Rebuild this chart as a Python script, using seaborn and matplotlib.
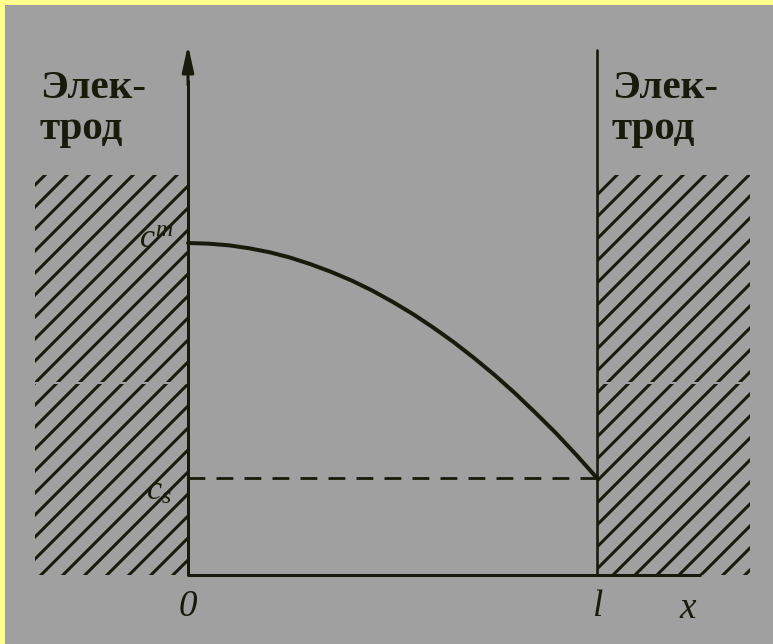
import matplotlib
matplotlib.use("Agg")
import matplotlib.pyplot as plt
from matplotlib.patches import Rectangle
import seaborn as sns
import pandas as pd

# Concentration profile between two electrodes (x in units of l, c in units of c^m)
x_pos = [0.00, 0.05, 0.10, 0.15, 0.20, 0.25, 0.30, 0.35, 0.40, 0.45, 0.50,
         0.55, 0.60, 0.65, 0.70, 0.75, 0.80, 0.85, 0.90, 0.95, 1.00]
conc = [1.000, 0.998, 0.993, 0.984, 0.972, 0.956, 0.936, 0.913, 0.887, 0.857, 0.823,
        0.786, 0.745, 0.701, 0.653, 0.602, 0.547, 0.488, 0.427, 0.361, 0.292]
c_m = 1.0
c_s = 0.292
tick_labels = ["0", "l", "x"]
level_labels = [r"$c^{m}$", r"$c_{s}$"]
electrode_label = "Элек-\nтрод"

DPI = 132
W, H = 773, 644
BG = "#a0a0a0"
INK = "#181a0c"
YELLOW = "#ffff8e"


def pt(px):
    """Convert a size in output pixels to points."""
    return px * 72.0 / DPI


sns.set_theme(style="white")
plt.rcParams["hatch.linewidth"] = pt(3.0)
plt.rcParams["mathtext.fontset"] = "custom"
plt.rcParams["mathtext.rm"] = "Liberation Serif"
plt.rcParams["mathtext.it"] = "Liberation Serif:italic"
plt.rcParams["mathtext.bf"] = "Liberation Serif:bold"

fig = plt.figure(figsize=(W / DPI, H / DPI), dpi=DPI, facecolor=BG)
ax = fig.add_axes([0, 0, 1, 1])

# pixel frame: origin at (188, 575) px, l = 409 px, c^m = 332 px
X0, Y0, SX, SY = 188, 575, 409, 332


def px2x(px):
    return (px - X0) / SX


def px2y(py):
    return (Y0 - py) / SY


ax.set_xlim(px2x(0), px2x(W))
ax.set_ylim(px2y(H), px2y(0))
ax.set_facecolor(BG)
ax.axis("off")

# hatched electrodes
top_el = px2y(175)
left_w = -px2x(35)
right_w = px2x(750) - 1.0
ax.add_patch(Rectangle((-left_w, 0), left_w, top_el, facecolor="none",
                       edgecolor=INK, hatch="//", linewidth=0, zorder=1))
ax.add_patch(Rectangle((1.0, 0), right_w, top_el, facecolor="none",
                       edgecolor=INK, hatch="//", linewidth=0, zorder=1))
# faint break running across the hatching
gap_y = px2y(383)
ax.plot([-left_w, 0], [gap_y, gap_y], color=BG, lw=pt(2), zorder=2)
ax.plot([1.0, 1.0 + right_w], [gap_y, gap_y], color=BG, lw=pt(2), zorder=2)

# axes and electrode boundary
ax.plot([0, 0], [0, px2y(80)], color=INK, lw=pt(3), zorder=3, solid_capstyle="butt")
ax.annotate("", xy=(0, px2y(45)), xytext=(0, px2y(85)),
            arrowprops=dict(arrowstyle="-|>,head_length=1.0,head_width=0.22",
                            color=INK, lw=pt(3), shrinkA=0, shrinkB=0), zorder=3)
ax.plot([0, px2x(700)], [0, 0], color=INK, lw=pt(3), zorder=3)
ax.plot([1, 1], [0, px2y(50)], color=INK, lw=pt(2.6), zorder=3)

# concentration curve and c_s level
df = pd.DataFrame({"x": x_pos, "c": conc})
sns.lineplot(data=df, x="x", y="c", ax=ax, color=INK, lw=pt(4), zorder=4)
ax.plot([0, 1], [c_s, c_s], color=INK, lw=pt(2.8), dashes=(6, 4), zorder=4)
ax.set_xlabel("")
ax.set_ylabel("")

serif = ["Liberation Serif", "DejaVu Serif"]
txt = dict(color=INK, family=serif)

# electrode labels
ax.text(px2x(40), px2y(70), electrode_label, ha="left", va="top",
        fontsize=pt(41), linespacing=1.15, fontweight="bold", **txt)
ax.text(px2x(612), px2y(70), electrode_label, ha="left", va="top",
        fontsize=pt(41), linespacing=1.15, fontweight="bold", **txt)

# level labels
ax.text(px2x(174), c_m + 0.01, level_labels[0], ha="right", va="center",
        fontsize=pt(34), **txt)
ax.text(px2x(172), c_s - 0.04, level_labels[1], ha="right", va="center",
        fontsize=pt(34), **txt)

# axis tick labels
ax.text(0, px2y(607), tick_labels[0], ha="center", va="center", fontsize=pt(37),
        style="italic", **txt)
ax.text(1, px2y(607), tick_labels[1], ha="center", va="center", fontsize=pt(37),
        style="italic", **txt)
ax.text(px2x(688), px2y(609), tick_labels[2], ha="center", va="center", fontsize=pt(37),
        style="italic", **txt)

# yellow frame on the top and left edges
fig.add_artist(Rectangle((0, 0), 5 / W, 1, transform=fig.transFigure,
                         facecolor=YELLOW, edgecolor="none"))
fig.add_artist(Rectangle((0, 1 - 5 / H), 1, 5 / H, transform=fig.transFigure,
                         facecolor=YELLOW, edgecolor="none"))

fig.savefig("out.png", dpi=DPI, facecolor=BG)
